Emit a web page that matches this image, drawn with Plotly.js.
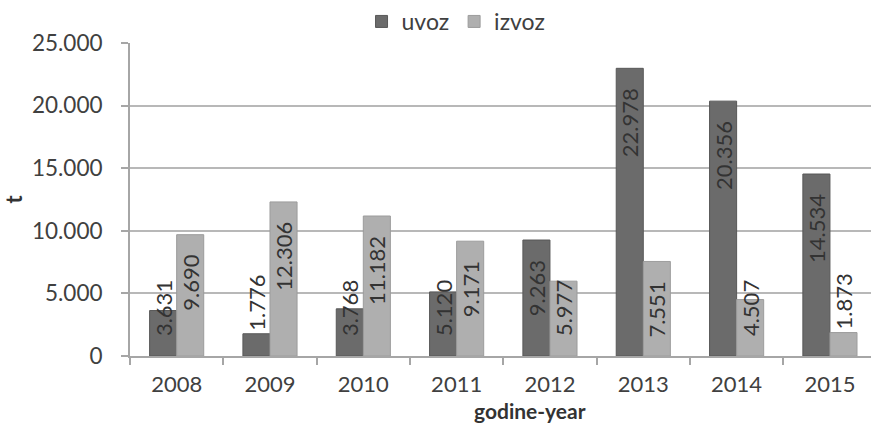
<!DOCTYPE html>
<html>
<head>
<meta charset="utf-8">
<script src="https://cdn.plot.ly/plotly-3.0.1.min.js"></script>
<style>html,body{margin:0;padding:0;background:#fff;}#chart{width:871px;height:424px;}</style>
</head>
<body>
<div id="chart"></div>
<script>
const years = ['2008','2009','2010','2011','2012','2013','2014','2015'];
const uvoz = [3631, 1776, 3768, 5120, 9263, 22978, 20356, 14534];
const izvoz = [9690, 12306, 11182, 9171, 5977, 7551, 4507, 1873];
// label placement style per point: 'end' (inside top), 'start' (inside bottom), 'outside'
const uvozLabelPos = ['start','outside','start','start','end','end','end','end'];
const izvozLabelPos = ['end','end','end','end','start','end','start','outside'];
const yTicks = [0, 5000, 10000, 15000, 20000, 25000];

const PAD = '\u00a0\u00a0\u00a0';
const FONT = 'Lato, "Open Sans", sans-serif';

function seriesTraces(name, values, posArr, fill, line, group) {
  const traces = [];
  ['end', 'start'].forEach((anchor, k) => {
    const ys = values.map((v, i) => (posArr[i] === anchor || (anchor === 'end' && posArr[i] === 'outside')) ? v : null);
    const tp = posArr.map(p => p === 'outside' ? 'outside' : 'inside');
    const tt = posArr.map(p => p === 'outside' ? '%{y:,}' : (p === 'start' ? PAD + '%{y:,}' : '%{y:,}' + PAD));
    traces.push({
      type: 'bar',
      name: name,
      x: years,
      y: ys,
      offsetgroup: group,
      legendgroup: group,
      showlegend: k === 0,
      marker: {color: fill, line: {color: line, width: 1}},
      texttemplate: tt,
      textposition: tp,
      insidetextanchor: anchor,
      textangle: -90,
      constraintext: 'none',
      cliponaxis: false,
      textfont: {family: FONT, size: 22, color: '#333333'},
      outsidetextfont: {family: FONT, size: 22, color: '#333333'},
      hoverinfo: 'x+y'
    });
  });
  return traces;
}

const data = [].concat(
  seriesTraces('uvoz', uvoz, uvozLabelPos, '#6b6b6b', '#585858', 'u'),
  seriesTraces('izvoz', izvoz, izvozLabelPos, '#afafaf', '#9c9c9c', 'i')
);

const layout = {
  width: 871,
  height: 424,
  margin: {l: 130, r: 0, t: 41, b: 68, pad: 0},
  paper_bgcolor: '#ffffff',
  plot_bgcolor: '#ffffff',
  separators: ',.',
  barmode: 'group',
  bargap: 0.42,
  bargroupgap: 0,
  font: {family: FONT, size: 22, color: '#404040'},
  showlegend: true,
  legend: {
    orientation: 'h',
    x: 0.44, xanchor: 'center',
    y: 1.0, yanchor: 'bottom',
    font: {family: FONT, size: 23, color: '#404040'},
    itemwidth: 30,
    traceorder: 'normal'
  },
  xaxis: {
    type: 'category',
    range: [-0.5, 7.44],
    showgrid: false,
    showline: true,
    linecolor: '#a6a6a6',
    linewidth: 2,
    ticks: 'outside',
    tickson: 'boundaries',
    ticklen: 7,
    tickcolor: '#a6a6a6',
    tickwidth: 2,
    ticklabelstandoff: 8,
    tickfont: {family: FONT, size: 22, color: '#404040'},
    fixedrange: true
  },
  yaxis: {
    range: [0, 25000],
    tickvals: yTicks,
    tickformat: ',',
    showgrid: true,
    gridcolor: '#b8b8b8',
    gridwidth: 2,
    zeroline: false,
    showline: true,
    linecolor: '#a6a6a6',
    linewidth: 2,
    ticks: 'outside',
    ticklen: 7,
    tickcolor: '#a6a6a6',
    tickwidth: 2,
    ticklabelstandoff: 14,
    tickfont: {family: FONT, size: 22.5, color: '#404040'},
    title: {text: 't', font: {family: FONT, size: 22, color: '#333333', weight: 'bold'}, standoff: 14},
    fixedrange: true
  },
  annotations: [{
    text: '<b>godine-year</b>',
    xref: 'paper', yref: 'paper',
    x: 0.54, y: 0, xanchor: 'center', yanchor: 'top',
    yshift: -40,
    showarrow: false,
    font: {family: FONT, size: 21, color: '#333333'}
  }]
};

Plotly.newPlot('chart', data, layout, {displayModeBar: false, staticPlot: true});
</script>
</body>
</html>
